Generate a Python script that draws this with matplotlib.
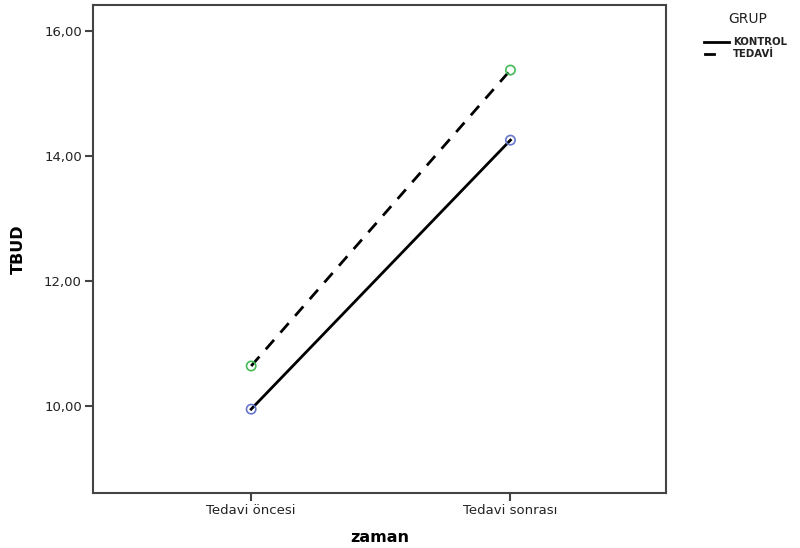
import matplotlib.pyplot as plt
from matplotlib.lines import Line2D
import numpy as np

plt.rcParams['font.family'] = ['DejaVu Sans']

zaman = ["Tedavi öncesi", "Tedavi sonrası"]
kontrol = [9.95, 14.25]
tedavi = [10.64, 15.37]
y_ticks = [10.0, 12.0, 14.0, 16.0]
y_labels = ["10,00", "12,00", "14,00", "16,00"]

fig = plt.figure(figsize=(8, 5.48), dpi=100)
ax = fig.add_axes([93/800, 1-493/548, (666-93)/800, (493-5)/548])

x = np.arange(len(zaman))
ax.plot(x, kontrol, color='black', linewidth=2, linestyle='-', zorder=2)
ax.plot(x, tedavi, color='black', linewidth=2, linestyle=(0, (4.5, 3.5)), zorder=2)
ax.scatter(x, kontrol, s=45, facecolors='none', edgecolors='#6677cc', linewidths=1.2, zorder=3)
ax.scatter(x, tedavi, s=45, facecolors='none', edgecolors='#44bb55', linewidths=1.2, zorder=3)

ax.set_xlim(-0.61, 1.6)
ax.set_ylim(8.61, 16.41)
ax.set_xticks(x)
ax.set_xticklabels(zaman, fontsize=9.5, color='#222222')
ax.set_yticks(y_ticks)
ax.set_yticklabels(y_labels, fontsize=9.5, color='#222222')
ax.tick_params(direction='out', length=6, width=1.5, color='#444444', pad=2)
for s in ax.spines.values():
    s.set_color('#444444')
    s.set_linewidth(1.5)

ax.set_xlabel('zaman', fontsize=11.5, fontweight='bold', labelpad=9)
ax.set_ylabel('TBUD', fontsize=11.5, fontweight='bold', labelpad=13)

# legend
fig.text(748/800, 1-19/548, 'GRUP', fontsize=10, ha='center', va='center', color='#222222')
fig.add_artist(Line2D([704/800, 729/800], [1-42/548, 1-42/548], color='black', linewidth=2))
fig.add_artist(Line2D([705/800, 714/800], [1-54/548, 1-54/548], color='black', linewidth=2))
fig.text(733/800, 1-42/548, 'KONTROL', fontsize=7.3, fontweight='bold', va='center', color='#222222')
fig.text(733/800, 1-54/548, 'TEDAVİ', fontsize=7.3, fontweight='bold', va='center', color='#222222')

fig.savefig('out.png', dpi=100)
